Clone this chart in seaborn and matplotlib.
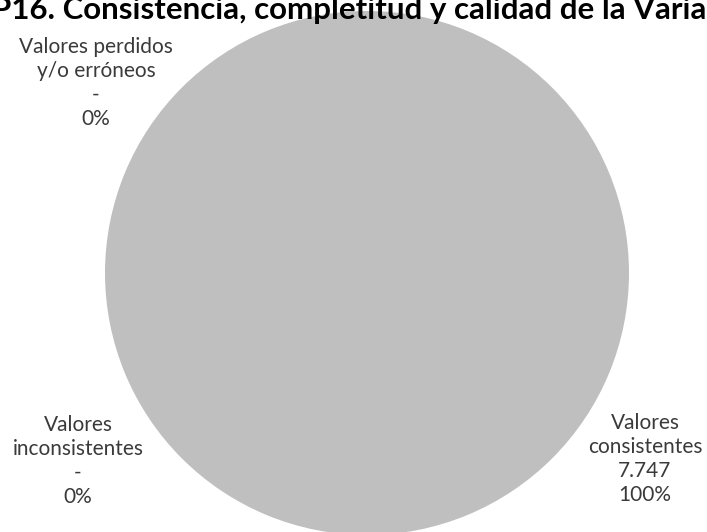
import numpy as np
import seaborn as sns
import matplotlib.pyplot as plt

# data
categories = ["Valores\nconsistentes", "Valores\ninconsistentes", "Valores perdidos\ny/o erróneos"]
values = [7747, 0, 0]
colors = ["#BFBFBF", "#A5A5A5", "#7F7F7F"]
title = "P16. Consistencia, completitud y calidad de la Variable"

sns.set_theme(style="white")
plt.rcParams["font.family"] = ["Lato", "DejaVu Sans"]


def fmt_count(v):
    if v == 0:
        return "-"
    return f"{v:,}".replace(",", ".")


fig = plt.figure(figsize=(7.07, 5.32), dpi=100)
# pie centred at (367, 273) px, radius 262 px
ax = fig.add_axes([105 / 707, (532 - 535) / 532, 524 / 707, 524 / 532])
ax.pie(values, colors=colors, startangle=90, counterclock=False, radius=1,
       wedgeprops={"linewidth": 0})
ax.set_xlim(-1, 1)
ax.set_ylim(-1, 1)
ax.axis("off")

total = sum(values)
# label anchors in pixels, converted to data coords
label_px = [(645, 459), (78, 461), (96, 83)]
for cat, v, (px, py) in zip(categories, values, label_px):
    txt = f"{cat}\n{fmt_count(v)}\n{v / total:.0%}"
    ax.text((px - 367) / 262, (273 - py) / 262, txt, ha="center", va="center",
            fontsize=15, color="#3a3a3a", linespacing=1.27)

fig.text(-8 / 707, 1 - 19 / 532, title, ha="left", va="baseline",
         fontsize=22.5, fontweight="bold", color="black")

fig.savefig("out.png", dpi=100)
